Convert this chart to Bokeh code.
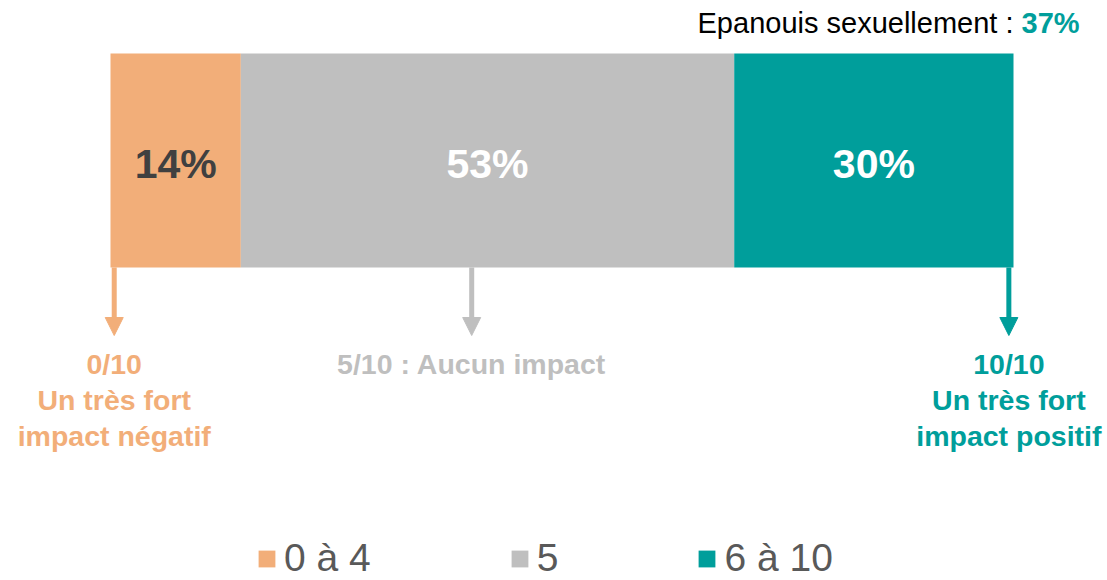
import numpy as np
from bokeh.plotting import figure
from bokeh.models import Range1d, Arrow, NormalHead, Legend, LegendItem, ColumnDataSource
from bokeh.core.properties import value
from bokeh.embed import file_html
from bokeh.resources import INLINE

# ---- data ----
categories = ["0 à 4", "5", "6 à 10"]
percentages = [14, 53, 30]
colors = ["#F2AE79", "#BFBFBF", "#009E9B"]
label_colors = ["#404040", "#FFFFFF", "#FFFFFF"]
scale_marks = [0.4, 38.8, 96.5]          # where the 0/10, 5/10, 10/10 arrows sit (in % units)
scale_texts = [["0/10", "Un très fort", "impact négatif"],
               ["5/10 : Aucun impact"],
               ["10/10", "Un très fort", "impact positif"]]
headline_text = "Epanouis sexuellement :"
headline_value = 37

FONT = value("Liberation Sans")
W, H = 1107, 580
# pixel mapping: bar starts at px 110, 903 px for 97 %
k = 903 / 97.0
x0 = -110 / k
x1 = x0 + W / k


def px(xp):
    return x0 + xp / k


p = figure(width=W, height=H, x_range=Range1d(x0, x1), y_range=Range1d(H, 0),
           output_backend="svg", toolbar_location=None, min_border=0,
           x_axis_type=None, y_axis_type=None)
p.outline_line_color = None
p.background_fill_color = "white"

right = np.cumsum(percentages)
left = right - np.array(percentages)
src = ColumnDataSource(dict(cat=categories, left=left, right=right, color=colors,
                            y=[160] * 3, mid=(left + right) / 2,
                            lab=[f"{v}%" for v in percentages], lc=label_colors,
                            ly=[163] * 3))
r = p.hbar(y="y", height=214, left="left", right="right", fill_color="color",
           line_color=None, source=src)
p.text(x="mid", y="ly", text="lab", text_color="lc", source=src, text_font=FONT,
       text_font_style="bold", text_font_size="41px", text_align="center",
       text_baseline="middle")

# arrows + scale annotations
for xm, c, lines in zip(scale_marks, colors, scale_texts):
    p.add_layout(Arrow(end=NormalHead(size=18, fill_color=c, line_color=c, line_width=1),
                       x_start=xm, y_start=267, x_end=xm, y_end=335,
                       line_color=c, line_width=5))
    p.text(x=[xm] * len(lines), y=[363 + 36 * i for i in range(len(lines))], text=lines,
           text_color=c, text_font=FONT, text_font_style="bold", text_font_size="28.5px",
           text_align="center", text_baseline="middle")

# headline
p.text(x=[px(1013)], y=[22], text=[headline_text], text_color="#000000",
       text_font=FONT, text_font_size="29px", text_align="right", text_baseline="middle")
p.text(x=[px(1021)], y=[22], text=[f"{headline_value}%"], text_color=colors[2],
       text_font=FONT, text_font_style="bold", text_font_size="29px",
       text_align="left", text_baseline="middle")

legend = Legend(items=[LegendItem(label=c, renderers=[r], index=i) for i, c in enumerate(categories)],
                orientation="horizontal", spacing=138, glyph_width=21, glyph_height=21,
                label_standoff=7, label_text_font="Liberation Sans", label_text_font_size="39px",
                label_text_color="#595959", border_line_color=None,
                background_fill_alpha=0, padding=0, margin=0, location=(256, 0))
p.add_layout(legend, "center")

open("out.html", "w").write(file_html(p, INLINE))
